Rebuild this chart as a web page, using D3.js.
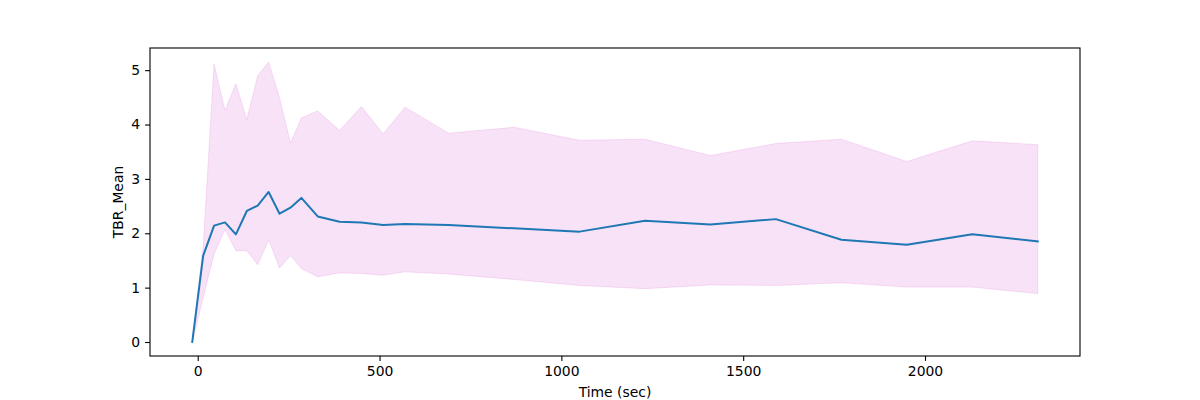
<!DOCTYPE html>
<html>
<head>
<meta charset="utf-8">
<script src="https://cdn.jsdelivr.net/npm/d3@7"></script>
<style>
  html, body { margin: 0; padding: 0; background: #fff; }
  svg { display: block; }
  text { font-family: "DejaVu Sans", sans-serif; }
</style>
</head>
<body>
<svg id="chart" width="1200" height="400"></svg>
<script>
const times = [-15, 15, 45, 75, 105, 135, 165, 195, 225, 255, 285, 330, 390, 450, 510, 570, 690, 870, 1050, 1230, 1410, 1590, 1770, 1950, 2130, 2310];
const meanVals = [0, 1.59, 2.14, 2.20, 1.98, 2.41, 2.51, 2.76, 2.36, 2.47, 2.65, 2.31, 2.21, 2.20, 2.15, 2.17, 2.15, 2.09, 2.03, 2.23, 2.16, 2.26, 1.88, 1.79, 1.98, 1.85];
const upperVals = [0, 1.76, 5.11, 4.26, 4.75, 4.09, 4.90, 5.15, 4.49, 3.66, 4.12, 4.25, 3.89, 4.33, 3.83, 4.32, 3.84, 3.95, 3.71, 3.73, 3.43, 3.65, 3.73, 3.32, 3.70, 3.63];
const lowerVals = [0, 0.82, 1.62, 2.07, 1.68, 1.68, 1.42, 1.88, 1.36, 1.59, 1.35, 1.20, 1.27, 1.26, 1.23, 1.29, 1.25, 1.15, 1.04, 0.98, 1.05, 1.04, 1.09, 1.01, 1.01, 0.89];
const xTicks = [0, 500, 1000, 1500, 2000];
const yTicks = [0, 1, 2, 3, 4, 5];

(function () {
const data = times.map((t, i) => ({ t, m: meanVals[i], lo: lowerVals[i], hi: upperVals[i] }));

const pL = 150, pR = 1080, pT = 48, pB = 356;
const svg = d3.select("#chart");

const xMin = d3.min(times), xMax = d3.max(times);
const xPad = (xMax - xMin) * 0.05;
const yMin = 0, yMax = d3.max(upperVals);
const yPad = (yMax - yMin) * 0.05;

const x = d3.scaleLinear().domain([xMin - xPad, xMax + xPad]).range([pL, pR]);
const y = d3.scaleLinear().domain([yMin - yPad, yMax + yPad]).range([pB, pT]);

const area = d3.area().x(d => x(d.t)).y0(d => y(d.lo)).y1(d => y(d.hi));
svg.append("path").datum(data).attr("d", area)
  .attr("fill", "orchid").attr("fill-opacity", 0.2)
  .attr("stroke", "orchid").attr("stroke-opacity", 0.2).attr("stroke-width", 1);

const line = d3.line().x(d => x(d.t)).y(d => y(d.m));
svg.append("path").datum(data).attr("d", line)
  .attr("fill", "none").attr("stroke", "#1f77b4").attr("stroke-width", 2)
  .attr("stroke-linejoin", "round").attr("stroke-linecap", "square");

const fs = 13.9;
const xAxis = svg.append("g").attr("transform", `translate(0,${pB})`)
  .call(d3.axisBottom(x).tickValues(xTicks).tickFormat(d3.format("d")).tickSize(4.9).tickPadding(4.9));
const yAxis = svg.append("g").attr("transform", `translate(${pL},0)`)
  .call(d3.axisLeft(y).tickValues(yTicks).tickFormat(d3.format("d")).tickSize(4.9).tickPadding(4.9));
[xAxis, yAxis].forEach(g => {
  g.select(".domain").remove();
  g.selectAll(".tick line").attr("stroke", "#000").attr("stroke-width", 1.1);
  g.selectAll(".tick text").attr("fill", "#000").style("font-size", fs + "px").style("font-family", "'DejaVu Sans', sans-serif");
});

svg.append("rect").attr("x", pL).attr("y", pT).attr("width", pR - pL).attr("height", pB - pT)
  .attr("fill", "none").attr("stroke", "#000").attr("stroke-width", 1.1);

svg.append("text").attr("x", (pL + pR) / 2).attr("y", 397)
  .attr("text-anchor", "middle").style("font-size", fs + "px").attr("fill", "#000").text("Time (sec)");
svg.append("text").attr("transform", `translate(123,${(pT + pB) / 2}) rotate(-90)`)
  .attr("text-anchor", "middle").style("font-size", fs + "px").attr("fill", "#000").text("TBR_Mean");
})();
</script>
</body>
</html>
